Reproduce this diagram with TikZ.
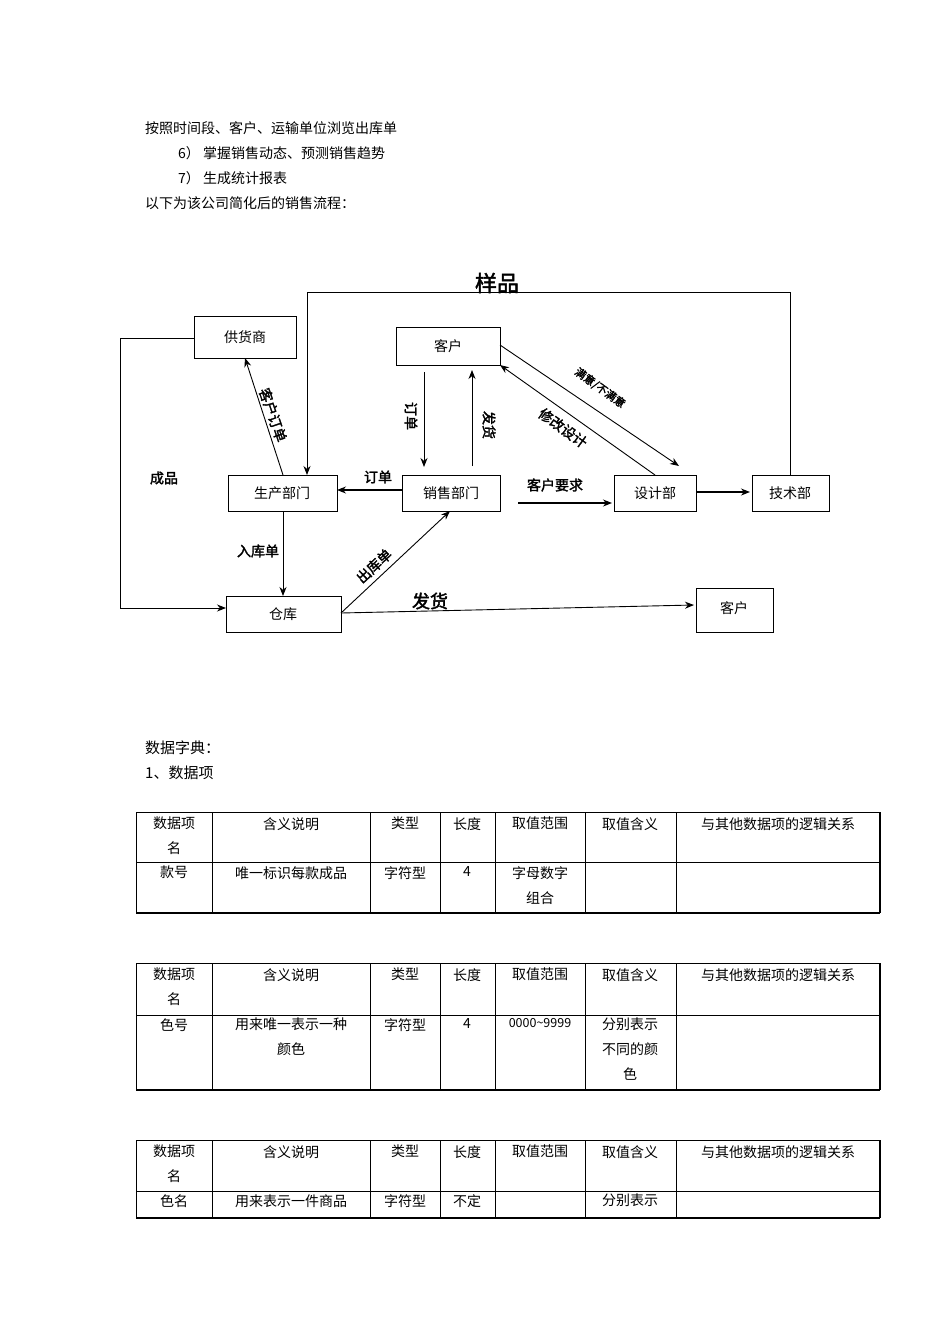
\documentclass[tikz,border=0pt]{standalone}
\usepackage{fontspec}
\setmainfont{Noto Sans CJK SC}
\newfontfamily\cjkb[FakeBold=2]{Noto Sans CJK SC}
\usetikzlibrary{arrows.meta}
\begin{document}
\begin{tikzpicture}[x=1pt,y=-1pt,
 box/.style={inner sep=0pt,font=\fontsize{14pt}{14pt}\selectfont},
 arr/.style={-{Stealth[length=9pt,width=7pt]},line width=1.2pt},
 lab/.style={inner sep=0pt,font=\cjkb\fontsize{14pt}{14pt}\selectfont},
 txt/.style={anchor=west,inner sep=0pt,font=\fontsize{14pt}{14pt}\selectfont},
 cell/.style={inner sep=0pt,font=\fontsize{14pt}{25pt}\selectfont,align=center}]
\useasboundingbox (0,0) rectangle (950,1344);
\fill[white] (0,0) rectangle (950,1344);
\node[txt] (t1) at (145,128) {按照时间段、客户、运输单位浏览出库单};
\node[txt] (t2) at (178,153) {6） 掌握销售动态、预测销售趋势};
\node[txt] (t3) at (178,178) {7） 生成统计报表};
\node[txt] (t4) at (145,203) {以下为该公司简化后的销售流程：};
% boxes
\draw[line width=1pt] (194,316) rectangle (296,358); \node[box] (gys) at (245,337) {供货商};
\draw[line width=1pt] (396,327) rectangle (500,365); \node[box] (kh) at (448,346) {客户};
\draw[line width=1pt] (228,475) rectangle (337,511); \node[box] (sc) at (282,493) {生产部门};
\draw[line width=1pt] (402,475) rectangle (500,511); \node[box] (xs) at (451,493) {销售部门};
\draw[line width=1pt] (614,475) rectangle (696,511); \node[box] (sj) at (655,493) {设计部};
\draw[line width=1pt] (752,475) rectangle (829,511); \node[box] (js) at (790,493) {技术部};
\draw[line width=1pt] (226,596) rectangle (341,632); \node[box] (ck) at (283,614) {仓库};
\draw[line width=1pt] (696,588) rectangle (773,632); \node[box] (kh2) at (734,608) {客户};
\coordinate (a1) at (790,475); \coordinate (a2) at (307,475);
\draw[arr,line width=0.9pt] (a1) -- (790,292) -- (307,292) -- (a2);
\node[lab,font=\cjkb\fontsize{22pt}{22pt}\selectfont] (yp) at (497,283) {样品};
\coordinate (b1) at (194,338); \coordinate (b2) at (226,608);
\draw[arr,line width=0.9pt] (b1) -- (120,338) -- (120,608) -- (b2);
\node[lab] (cp) at (164,478) {成品};
\coordinate (c1) at (283,475); \coordinate (c2) at (245,358);
\draw[arr,line width=0.9pt] (c1) -- (c2);
\node[lab,rotate=-71] (khdd) at (273,415) {客户订单};
\coordinate (d1) at (424,372); \coordinate (d2) at (424,467);
\draw[arr,line width=0.9pt] (d1) -- (d2);
\node[lab,rotate=-90] (dd1) at (411,416) {订单};
\coordinate (e1) at (472,466); \coordinate (e2) at (472,370);
\draw[arr,line width=0.9pt] (e1) -- (e2);
\node[lab,rotate=-90] (fh1) at (489,425) {发货};
\coordinate (f1) at (500,345); \coordinate (f2) at (679,466);
\draw[arr,line width=0.9pt] (f1) -- (f2);
\node[lab,rotate=-36,font=\cjkb\fontsize{11pt}{11pt}\selectfont] (my) at (600,388) {满意/不满意};
\coordinate (g1) at (655,475); \coordinate (g2) at (500,365);
\draw[arr,line width=0.9pt] (g1) -- (g2);
\node[lab,rotate=-36] (xg) at (563,428) {修改设计};
\coordinate (s1) at (402,490); \coordinate (s2) at (337,490);
\draw[arr] (s1) -- (s2);
\node[lab] (dd2) at (378,477) {订单};
\coordinate (h1) at (518,503); \coordinate (h2) at (612,503);
\draw[arr] (h1) -- (h2);
\node[lab] (khyq) at (555,485) {客户要求};
\coordinate (i1) at (696,492); \coordinate (i2) at (750,492);
\draw[arr] (i1) -- (i2);
\coordinate (j1) at (283,511); \coordinate (j2) at (283,596);
\draw[arr,line width=0.9pt] (j1) -- (j2);
\node[lab] (rkd) at (258,551) {入库单};
\coordinate (k1) at (341,613); \coordinate (k2) at (450,511);
\draw[arr,line width=0.9pt] (k1) -- (k2);
\node[lab,rotate=43] (ckd) at (374,566) {出库单};
\coordinate (l1) at (694,605);
\draw[arr,line width=0.9pt] (k1) -- (l1);
\node[lab,font=\cjkb\fontsize{18pt}{18pt}\selectfont] (fh2) at (430,601) {发货};
% data dictionary
\node[txt,font=\fontsize{15pt}{15pt}\selectfont] (dz) at (145,748) {数据字典：};
\node[txt,font=\fontsize{15pt}{15pt}\selectfont] (sjx) at (145,773) {1、数据项};
\foreach \yt/\ym/\yb in {812/862/913,963/1015/1090,1140/1191/1218}{
 \draw (136,\yt) -- (880,\yt); \draw (136,\ym) -- (880,\ym); \draw[line width=1.4pt] (136,\yb) -- (880,\yb);
 \foreach \x in {136,212,370,440,495,585,676} \draw (\x,\yt) -- (\x,\yb);
 \draw[line width=1.4pt] (880,\yt) -- (880,\yb);
 \node[cell,anchor=north] at (174,\yt+5) {数据项\\名};
 \node[cell,anchor=north] at (291,\yt+5) {含义说明};
 \node[cell,anchor=north] at (405,\yt+5) {类型};
 \node[cell,anchor=north] at (467,\yt+5) {长度};
 \node[cell,anchor=north] at (540,\yt+5) {取值范围};
 \node[cell,anchor=north] at (630,\yt+5) {取值含义};
 \node[cell,anchor=north] at (778,\yt+5) {与其他数据项的逻辑关系};
}
\node[cell,anchor=north] at (174,866) {款号};
\node[cell,anchor=north] at (291,866) {唯一标识每款成品};
\node[cell,anchor=north] at (405,866) {字符型};
\node[cell,anchor=north] at (467,866) {4};
\node[cell,anchor=north] at (540,866) {字母数字\\组合};
\node[cell,anchor=north] at (174,1018) {色号};
\node[cell,anchor=north] at (291,1018) {用来唯一表示一种\\颜色};
\node[cell,anchor=north] at (405,1018) {字符型};
\node[cell,anchor=north] at (467,1018) {4};
\node[cell,anchor=north,font=\fontsize{12.5pt}{25pt}\selectfont] at (540,1018) {0000\textasciitilde 9999};
\node[cell,anchor=north] at (630,1018) {分别表示\\不同的颜\\色};
\node[cell,anchor=north] at (174,1194) {色名};
\node[cell,anchor=north] at (291,1194) {用来表示一件商品};
\node[cell,anchor=north] at (405,1194) {字符型};
\node[cell,anchor=north] at (467,1194) {不定};
\node[cell,anchor=north] at (630,1194) {分别表示};
\end{tikzpicture}
\end{document}
